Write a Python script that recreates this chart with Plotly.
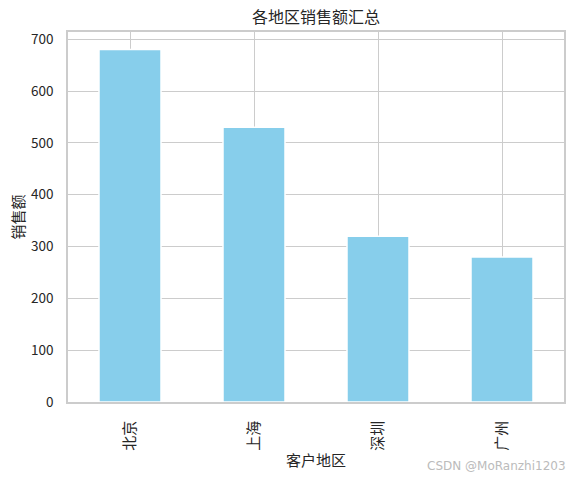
import plotly.graph_objects as go

regions = ["北京", "上海", "深圳", "广州"]
sales = [680, 530, 320, 280]
y_ticks = [0, 100, 200, 300, 400, 500, 600, 700]

FONT = "Noto Sans CJK SC, DejaVu Sans, sans-serif"
TXT = "#262626"
GRID = "#cccccc"

L, R, T, B = 68, 9, 32, 75
W, H = 573, 477
PW, PH = W - L - R, H - T - B

fig = go.Figure(
    go.Bar(
        x=regions,
        y=sales,
        marker=dict(color="#87ceeb", line=dict(color="white", width=1.5)),
    )
)

fig.update_layout(
    width=W,
    height=H,
    margin=dict(l=L, r=R, t=T, b=B, autoexpand=False),
    paper_bgcolor="white",
    plot_bgcolor="white",
    bargap=0.5,
    showlegend=False,
    font=dict(family=FONT, color=TXT, size=14),
    title=dict(
        text="各地区销售额汇总",
        x=316 / W,
        xanchor="center",
        y=1 - 17 / H,
        yanchor="middle",
        font=dict(size=16, color=TXT, family=FONT),
    ),
)

fig.update_xaxes(
    range=[-0.5, 3.5],
    automargin=False,
    showgrid=True,
    gridcolor=GRID,
    gridwidth=1.25,
    showline=True,
    mirror=True,
    linecolor=GRID,
    linewidth=1.5,
    ticks="outside",
    ticklen=11,
    tickcolor="rgba(0,0,0,0)",
    tickangle=-90,
    tickfont=dict(size=15, family=FONT, color=TXT),
    title=dict(text="客户地区", font=dict(size=15, family=FONT, color=TXT), standoff=6),
    zeroline=False,
)

fig.update_yaxes(
    range=[0, 714],
    automargin=False,
    tickvals=y_ticks,
    showgrid=True,
    gridcolor=GRID,
    gridwidth=1.25,
    showline=True,
    mirror=True,
    linecolor=GRID,
    linewidth=1.5,
    ticks="outside",
    ticklen=10,
    tickcolor="rgba(0,0,0,0)",
    tickfont=dict(size=13.5, family=FONT, color=TXT),
    title=dict(text="销售额", font=dict(size=15, family=FONT, color=TXT), standoff=3),
    zeroline=False,
)

fig.add_annotation(
    text="CSDN @MoRanzhi1203",
    xref="paper", yref="paper",
    x=(568 - L) / PW,
    y=-(466 - (H - B)) / PH,
    xanchor="right", yanchor="middle",
    showarrow=False,
    font=dict(size=12, color="#bbbbbb", family="DejaVu Sans, sans-serif"),
)

fig.write_html(
    "out.html",
    config={"displayModeBar": False},
    post_script="document.body.style.margin='0';document.body.style.padding='0';",
)
